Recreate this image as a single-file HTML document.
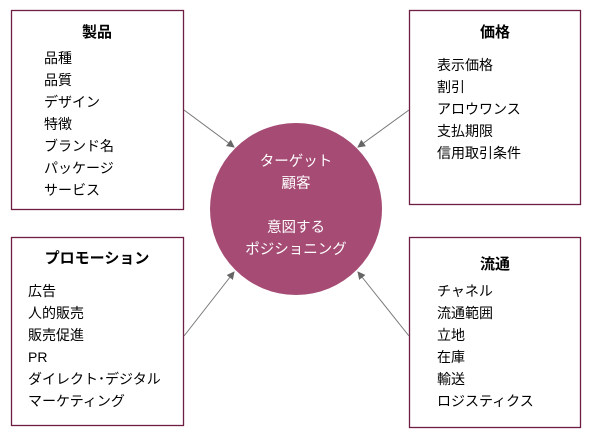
<!DOCTYPE html>
<html><head><meta charset="utf-8"><style>
body{margin:0;background:#fff;width:602px;height:442px;overflow:hidden}
svg text{font-family:"Liberation Sans","Noto Sans CJK JP",sans-serif;font-size:14px}
.t{font-weight:bold;font-size:15px}
.c{font-size:14.5px}
</style></head><body>
<svg width="602" height="442" xmlns="http://www.w3.org/2000/svg">
<defs><marker id="a" markerWidth="8" markerHeight="8" refX="7" refY="4" orient="auto" markerUnits="userSpaceOnUse"><path d="M0,0 L8,4 L0,8 z" fill="#666"/></marker></defs>
<g fill="none" stroke="#6e1e44" stroke-width="1.3">
<rect x="11.5" y="10.5" width="172" height="199"/>
<rect x="409.5" y="10.5" width="171" height="194"/>
<rect x="11.5" y="237.5" width="172" height="188"/>
<rect x="409.5" y="237.5" width="171" height="190"/>
</g>
<g stroke="#777" stroke-width="1" marker-end="url(#a)">
<line x1="184" y1="110" x2="234" y2="147"/>
<line x1="409" y1="110" x2="358" y2="147"/>
<line x1="184" y1="336" x2="234" y2="272"/>
<line x1="409" y1="336" x2="358" y2="272"/>
</g>
<circle cx="296" cy="209" r="86" fill="#a54b74"/>
<g fill="#fff" text-anchor="middle" class="c">
<text class="c" x="296" y="166">ターゲット</text>
<text class="c" x="296" y="188">顧客</text>
<text class="c" x="296" y="232">意図する</text>
<text class="c" x="296" y="254">ポジショニング</text>
</g>
<g fill="#000">
<text class="t" x="97" y="37" text-anchor="middle">製品</text>
<text x="44" y="63">品種</text><text x="44" y="85">品質</text><text x="44" y="107">デザイン</text><text x="44" y="129">特徴</text><text x="44" y="151">ブランド名</text><text x="44" y="173">パッケージ</text><text x="44" y="195">サービス</text>
<text class="t" x="495" y="37" text-anchor="middle">価格</text>
<text x="437" y="70">表示価格</text><text x="437" y="92">割引</text><text x="437" y="114">アロウワンス</text><text x="437" y="136">支払期限</text><text x="437" y="158">信用取引条件</text>
<text class="t" x="97" y="263" text-anchor="middle">プロモーション</text>
<text x="28" y="296">広告</text><text x="28" y="318">人的販売</text><text x="28" y="340">販売促進</text><text x="28" y="362">PR</text><text x="28" y="384">ダイレクト･デジタル</text><text x="28" y="406">マーケティング</text>
<text class="t" x="495" y="269" text-anchor="middle">流通</text>
<text x="437" y="296">チャネル</text><text x="437" y="318">流通範囲</text><text x="437" y="340">立地</text><text x="437" y="362">在庫</text><text x="437" y="384">輸送</text><text x="437" y="406">ロジスティクス</text>
</g>
</svg>
</body></html>
